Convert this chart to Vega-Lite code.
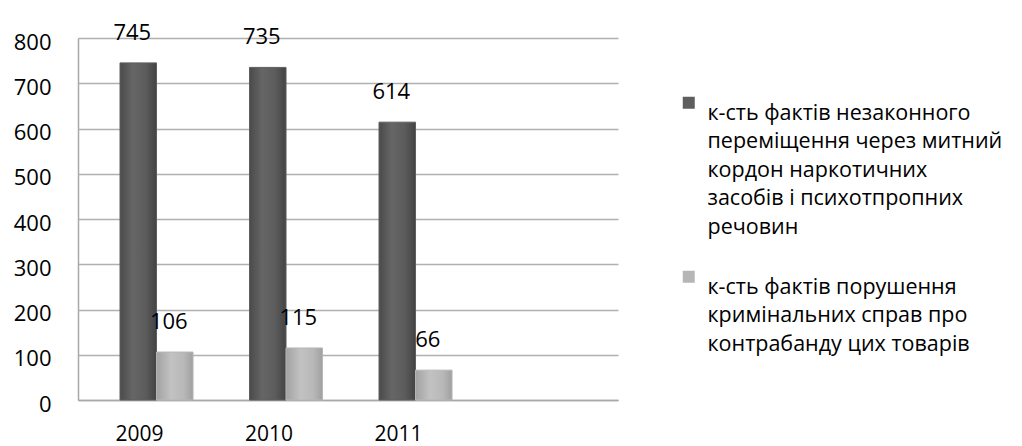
{
  "$schema": "https://vega.github.io/schema/vega-lite/v6.json",
  "width": 540,
  "height": 362,
  "autosize": {"type": "none"},
  "padding": {"left": 78, "top": 38, "right": 404, "bottom": 46},
  "background": "white",
  "config": {
    "font": "Open Sans",
    "view": {"stroke": null},
    "style": {"guide-label": {"lineHeight": 28.5}}
  },
  "data": {
    "values": [
      {"year": "2009", "series": "к-сть фактів незаконного переміщення через митний кордон наркотичних засобів і психотпропних речовин", "value": 745},
      {"year": "2009", "series": "к-сть фактів порушення кримінальних справ про контрабанду цих товарів", "value": 106},
      {"year": "2010", "series": "к-сть фактів незаконного переміщення через митний кордон наркотичних засобів і психотпропних речовин", "value": 735},
      {"year": "2010", "series": "к-сть фактів порушення кримінальних справ про контрабанду цих товарів", "value": 115},
      {"year": "2011", "series": "к-сть фактів незаконного переміщення через митний кордон наркотичних засобів і психотпропних речовин", "value": 614},
      {"year": "2011", "series": "к-сть фактів порушення кримінальних справ про контрабанду цих товарів", "value": 66}
    ]
  },
  "encoding": {
    "x": {
      "field": "year",
      "type": "nominal",
      "scale": {"paddingInner": 0.436, "paddingOuter": 0.803, "align": 0.202},
      "axis": {
        "title": null,
        "labelAngle": 0,
        "labelFontSize": 21,
        "labelColor": "#000000",
        "labelPadding": 23,
        "labelOffset": -17,
        "ticks": false,
        "domain": true,
        "domainColor": "#a8a8a8",
        "domainWidth": 1.5
      }
    },
    "xOffset": {
      "field": "series",
      "type": "nominal",
      "scale": {
        "domain": [
          "к-сть фактів незаконного переміщення через митний кордон наркотичних засобів і психотпропних речовин",
          "к-сть фактів порушення кримінальних справ про контрабанду цих товарів"
        ],
        "paddingInner": 0,
        "paddingOuter": 0
      }
    },
    "y": {
      "field": "value",
      "type": "quantitative",
      "scale": {"domain": [0, 800], "nice": false},
      "axis": {
        "title": null,
        "values": [0, 100, 200, 300, 400, 500, 600, 700, 800],
        "labelFontSize": 22,
        "labelColor": "#000000",
        "labelPadding": 27,
        "labelOffset": 4,
        "ticks": false,
        "domain": true,
        "domainColor": "#a8a8a8",
        "domainWidth": 1.5,
        "gridColor": "#b0b0b0",
        "gridWidth": 1.5
      }
    }
  },
  "layer": [
    {
      "mark": {"type": "bar", "strokeWidth": 1},
      "encoding": {
        "stroke": {
          "field": "series",
          "type": "nominal",
          "scale": {
            "domain": [
              "к-сть фактів незаконного переміщення через митний кордон наркотичних засобів і психотпропних речовин",
              "к-сть фактів порушення кримінальних справ про контрабанду цих товарів"
            ],
            "range": ["#5e5e5e", "#b6b6b6"]
          },
          "legend": {
            "title": null,
            "orient": "none",
            "legendX": 600,
            "legendY": 54,
            "symbolType": "square",
            "symbolSize": 36,
            "symbolStrokeWidth": 6,
            "symbolFillColor": "transparent",
            "labelFontSize": 21.5,
            "labelColor": "#000000",
            "labelLimit": 500,
            "labelOffset": 8,
            "labelBaseline": "top",
            "rowPadding": 22,
            "labelExpr": "datum.label == 'к-сть фактів незаконного переміщення через митний кордон наркотичних засобів і психотпропних речовин' ? ['к-сть фактів  незаконного', 'переміщення через митний', 'кордон наркотичних', 'засобів і психотпропних', 'речовин'] : ['к-сть фактів  порушення', 'кримінальних справ про', 'контрабанду цих товарів']"
          }
        },
        "fill": {
          "condition": {
            "test": "datum.series == 'к-сть фактів незаконного переміщення через митний кордон наркотичних засобів і психотпропних речовин'",
            "value": {
              "gradient": "linear",
              "stops": [
                {"offset": 0, "color": "#4a4a4a"},
                {"offset": 0.35, "color": "#666666"},
                {"offset": 0.7, "color": "#5c5c5c"},
                {"offset": 1, "color": "#434343"}
              ]
            }
          },
          "value": {
            "gradient": "linear",
            "stops": [
              {"offset": 0, "color": "#a2a2a2"},
              {"offset": 0.4, "color": "#c2c2c2"},
              {"offset": 0.75, "color": "#b8b8b8"},
              {"offset": 1, "color": "#a0a0a0"}
            ]
          }
        }
      }
    },
    {
      "mark": {"type": "text", "baseline": "middle", "dy": -30, "dx": -6, "fontSize": 22, "color": "#000000"},
      "encoding": {"text": {"field": "value", "type": "quantitative"}}
    }
  ]
}
